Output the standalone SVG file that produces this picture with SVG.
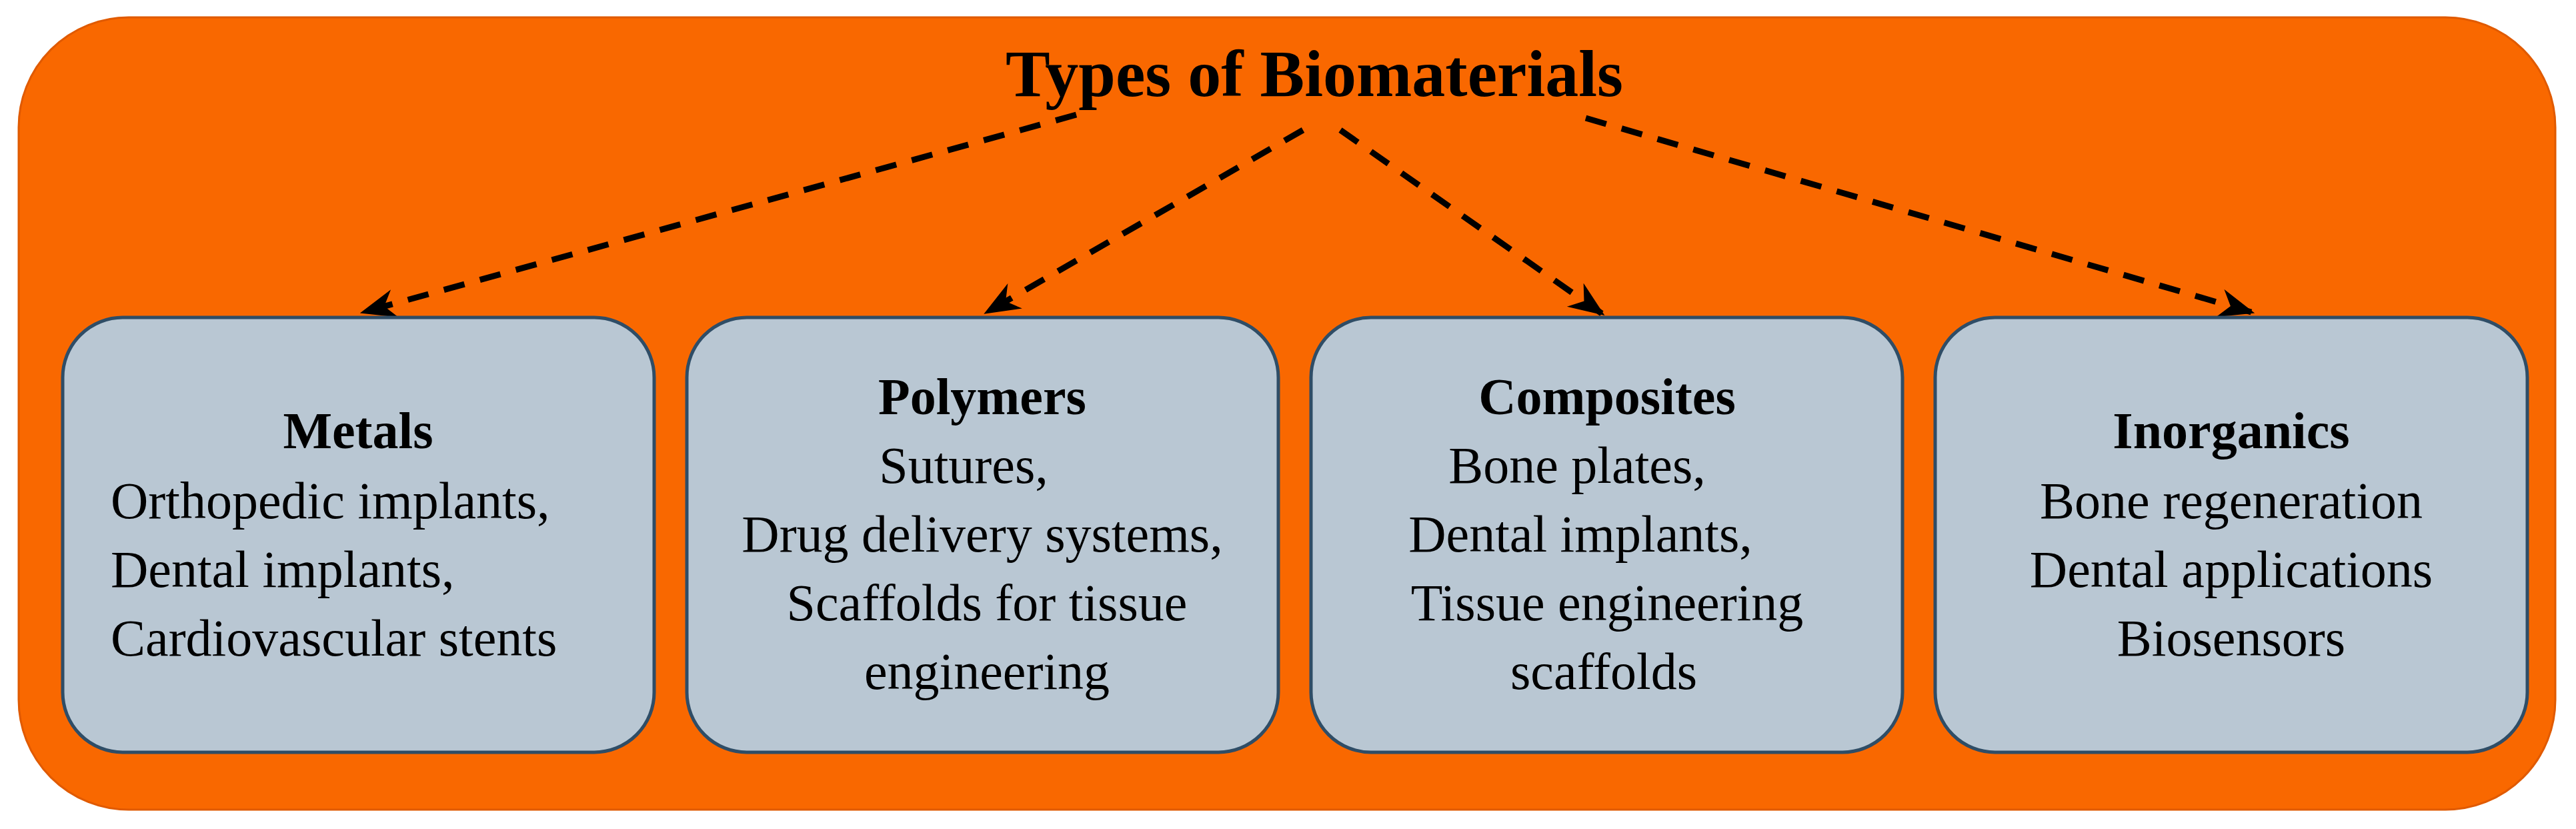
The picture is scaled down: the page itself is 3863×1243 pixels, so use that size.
<svg xmlns="http://www.w3.org/2000/svg" width="3863" height="1243" viewBox="0 0 3863 1243">
<style>
.box{fill:#b9c7d3;stroke:#2f4d66;stroke-width:5}
text{font-family:"Liberation Serif","Times New Roman",serif;fill:#000;text-anchor:middle}
.t{font-size:78px}
.b{font-size:78px;font-weight:bold}
.c{fill:none;stroke:#000;stroke-width:9;stroke-dasharray:32 24;marker-end:url(#ah)}
</style>
<defs>
<marker id="ah" viewBox="0 0 20 20" refX="18" refY="10" markerWidth="6" markerHeight="6" markerUnits="strokeWidth" orient="auto">
<path d="M0,2 L20,10 L0,18 L6,10 Z" fill="#000"/>
</marker>
</defs>
<rect x="28" y="26" width="3804" height="1188" rx="165" fill="#f96800" stroke="#e05a00" stroke-width="3"/>
<g id="title"><text x="1971" y="144" style="font-size:100px;font-weight:bold">Types of Biomaterials</text></g>
<g id="connectors">
<line class="c" x1="1614" y1="172" x2="545" y2="468"/>
<line class="c" x1="1954" y1="195" x2="1480" y2="468"/>
<line class="c" x1="2010" y1="195" x2="2402" y2="470"/>
<line class="c" x1="2378" y1="177" x2="3376" y2="468"/>
</g>
<g id="metals"><rect class="box" x="94" y="476" width="887" height="652" rx="90"/>
<text class="b" x="537" y="672">Metals</text>
<text class="t" x="166" y="777" style="text-anchor:start">Orthopedic implants,</text>
<text class="t" x="166" y="880" style="text-anchor:start">Dental implants,</text>
<text class="t" x="166" y="983" style="text-anchor:start">Cardiovascular stents</text></g>
<g id="polymers"><rect class="box" x="1030" y="476" width="887" height="652" rx="90"/>
<text class="b" x="1473" y="621">Polymers</text>
<text class="t" x="1445" y="724">Sutures,</text>
<text class="t" x="1473" y="827">Drug delivery systems,</text>
<text class="t" x="1480" y="930">Scaffolds for tissue</text>
<text class="t" x="1480" y="1033">engineering</text></g>
<g id="composites"><rect class="box" x="1966" y="476" width="887" height="652" rx="90"/>
<text class="b" x="2410" y="621">Composites</text>
<text class="t" x="2365" y="724">Bone plates,</text>
<text class="t" x="2370" y="827">Dental implants,</text>
<text class="t" x="2410" y="930">Tissue engineering</text>
<text class="t" x="2405" y="1033">scaffolds</text></g>
<g id="inorganics"><rect class="box" x="2902" y="476" width="888" height="652" rx="90"/>
<text class="b" x="3346" y="672">Inorganics</text>
<text class="t" x="3346" y="777">Bone regeneration</text>
<text class="t" x="3346" y="880">Dental applications</text>
<text class="t" x="3346" y="983">Biosensors</text></g>
</svg>
